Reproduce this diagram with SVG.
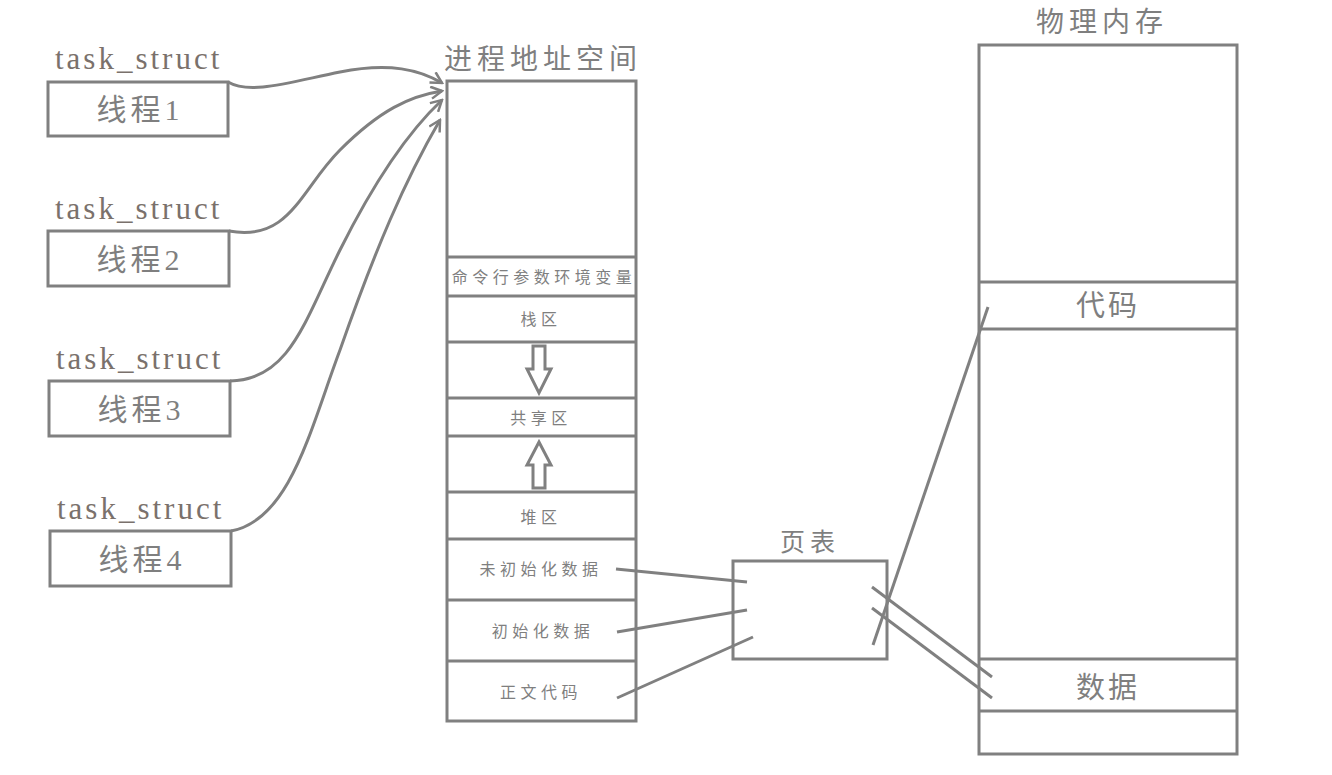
<svg xmlns="http://www.w3.org/2000/svg" width="1332" height="775" viewBox="0 0 1332 775">
<defs>
<style>
.box{fill:#fff;stroke:#808080;stroke-width:3}
.ln{fill:none;stroke:#808080;stroke-width:3}
.ts{font-family:"Liberation Serif",serif;font-size:31px;fill:#7a716c;letter-spacing:3px}
.cn{font-family:"Liberation Serif","Noto Sans CJK SC",serif;fill:#7f7f7f}
.big{font-size:30px;letter-spacing:4px}
.ttl{font-size:28px;letter-spacing:5px}
.sm{font-size:16px;letter-spacing:4.5px}
</style>
<marker id="arr" viewBox="0 0 14 14" refX="12" refY="7" markerWidth="14" markerHeight="14" markerUnits="userSpaceOnUse" orient="auto">
<path d="M1,1 L12,7 L1,13" fill="none" stroke="#808080" stroke-width="2.5"/>
</marker>
</defs>
<rect width="1332" height="775" fill="#fff"/>

<g id="thread1">
<text class="ts" x="55" y="69">task_struct</text>
<rect class="box" x="48" y="82" width="180" height="54"/>
<text class="cn big" x="140" y="120" text-anchor="middle">线程1</text>
</g>
<g id="thread2">
<text class="ts" x="55" y="219">task_struct</text>
<rect class="box" x="48" y="231" width="181" height="55"/>
<text class="cn big" x="140" y="270" text-anchor="middle">线程2</text>
</g>
<g id="thread3">
<text class="ts" x="56" y="369">task_struct</text>
<rect class="box" x="49" y="381" width="181" height="55"/>
<text class="cn big" x="141" y="420" text-anchor="middle">线程3</text>
</g>
<g id="thread4">
<text class="ts" x="57" y="519">task_struct</text>
<rect class="box" x="50" y="531" width="181" height="55"/>
<text class="cn big" x="142" y="570" text-anchor="middle">线程4</text>
</g>

<g id="address-space">
<text class="cn ttl" x="543" y="69" text-anchor="middle">进程地址空间</text>
<rect class="box" x="447" y="81" width="189" height="640"/>
<line class="ln" x1="447" y1="257" x2="636" y2="257"/>
<line class="ln" x1="447" y1="296" x2="636" y2="296"/>
<line class="ln" x1="447" y1="342" x2="636" y2="342"/>
<line class="ln" x1="447" y1="398" x2="636" y2="398"/>
<line class="ln" x1="447" y1="436" x2="636" y2="436"/>
<line class="ln" x1="447" y1="492" x2="636" y2="492"/>
<line class="ln" x1="447" y1="539" x2="636" y2="539"/>
<line class="ln" x1="447" y1="600" x2="636" y2="600"/>
<line class="ln" x1="447" y1="661" x2="636" y2="661"/>
<text class="cn sm" x="544" y="283" text-anchor="middle">命令行参数环境变量</text>
<text class="cn sm" x="541" y="325" text-anchor="middle">栈区</text>
<path class="ln" d="M533,346 H545 V369 H551 L539,393 L527,369 H533 Z" stroke-width="2.5"/>
<text class="cn sm" x="541" y="424" text-anchor="middle">共享区</text>
<path class="ln" d="M533,488 H545 V465 H551 L539,442 L527,465 H533 Z" stroke-width="2.5"/>
<text class="cn sm" x="541" y="523" text-anchor="middle">堆区</text>
<text class="cn sm" x="541" y="575" text-anchor="middle">未初始化数据</text>
<text class="cn sm" x="543" y="637" text-anchor="middle">初始化数据</text>
<text class="cn sm" x="541" y="698" text-anchor="middle">正文代码</text>
</g>

<g id="page-table">
<text class="cn" x="810" y="551" text-anchor="middle" font-size="25" letter-spacing="5">页表</text>
<rect class="box" x="733" y="561" width="154" height="98"/>
</g>

<g id="physical-memory">
<text class="cn ttl" x="1102" y="32" text-anchor="middle">物理内存</text>
<rect class="box" x="979" y="45" width="258" height="709"/>
<line class="ln" x1="979" y1="282" x2="1237" y2="282"/>
<line class="ln" x1="979" y1="329" x2="1237" y2="329"/>
<line class="ln" x1="979" y1="659" x2="1237" y2="659"/>
<line class="ln" x1="979" y1="711" x2="1237" y2="711"/>
<text class="cn" x="1108" y="316" text-anchor="middle" font-size="29" letter-spacing="3">代码</text>
<text class="cn" x="1108" y="698" text-anchor="middle" font-size="29" letter-spacing="3">数据</text>
</g>

<g id="connectors">
<path class="ln" marker-end="url(#arr)" d="M228,82 C250,95 290,82 340,72 C390,62 420,70 442,83"/>
<path class="ln" marker-end="url(#arr)" d="M229,231 C290,242 300,190 340,150 C380,110 410,96 442,91"/>
<path class="ln" marker-end="url(#arr)" d="M230,381 C290,380 305,320 340,250 C375,180 410,130 442,100"/>
<path class="ln" marker-end="url(#arr)" d="M231,531 C290,520 310,430 340,350 C375,250 405,180 440,120"/>
<line class="ln" x1="616" y1="569" x2="747" y2="582"/>
<line class="ln" x1="617" y1="632" x2="747" y2="610"/>
<line class="ln" x1="617" y1="698" x2="753" y2="637"/>
<line class="ln" x1="873" y1="645" x2="988" y2="307"/>
<line class="ln" x1="872" y1="587" x2="992" y2="677"/>
<line class="ln" x1="872" y1="608" x2="992" y2="698"/>
</g>
</svg>
